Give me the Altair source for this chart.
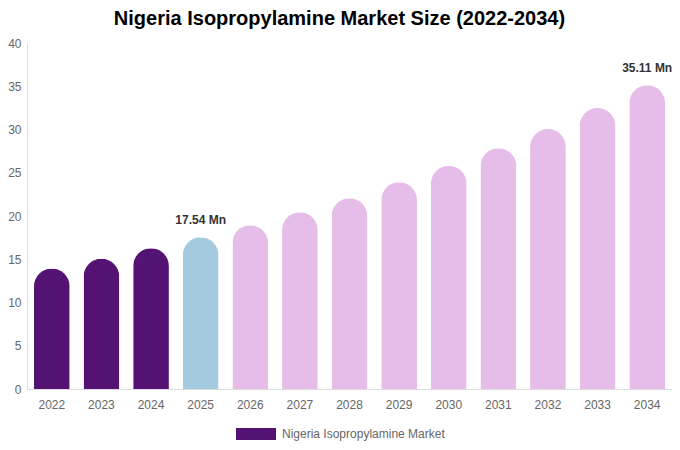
import altair as alt
import pandas as pd

years = ["2022", "2023", "2024", "2025", "2026", "2027", "2028", "2029", "2030", "2031", "2032", "2033", "2034"]
values = [13.94, 15.06, 16.26, 17.54, 18.92, 20.43, 22.05, 23.90, 25.79, 27.84, 30.05, 32.48, 35.11]
kinds = ["hist", "hist", "hist", "base", "fc", "fc", "fc", "fc", "fc", "fc", "fc", "fc", "fc"]
labels = ["", "", "", "17.54 Mn", "", "", "", "", "", "", "", "", "35.11 Mn"]
series_name = "Nigeria Isopropylamine Market"

df = pd.DataFrame({
    "year": years,
    "value": values,
    "kind": kinds,
    "label": labels,
    "series": [series_name] * len(years),
})

FONT = "Liberation Sans"

base = alt.Chart(df)

x_enc = alt.X("year:N", sort=years,
              scale=alt.Scale(paddingInner=0.28, paddingOuter=0.14),
              axis=alt.Axis(title=None, labelAngle=0, ticks=False, labelPadding=10,
                            labelColor="#666666", labelFontSize=12, labelFont=FONT,
                            domainColor="#dddddd"))
y_enc = alt.Y("value:Q", scale=alt.Scale(domain=[0, 40], nice=False),
              axis=alt.Axis(title=None, values=[0, 5, 10, 15, 20, 25, 30, 35, 40], ticks=False,
                            labelPadding=6, grid=False, labelColor="#666666", labelFontSize=12,
                            labelFont=FONT, domain=True, domainColor="#dddddd"))

bars = base.mark_bar(cornerRadiusTopLeft=18, cornerRadiusTopRight=18).encode(
    x=x_enc,
    y=y_enc,
    fill=alt.Fill("kind:N", scale=alt.Scale(domain=["hist", "base", "fc"],
                                           range=["#541273", "#a3cadf", "#e6bce9"]),
                  legend=None),
)

legend_layer = base.mark_bar(opacity=0).encode(
    x=alt.X("year:N", sort=years),
    y="value:Q",
    color=alt.Color("series:N", scale=alt.Scale(range=["#541273"]),
                    legend=alt.Legend(title=None, orient="none", legendX=209, legendY=371,
                                      symbolType="M-1,-0.3H1V0.3H-1Z", symbolSize=1600,
                                      symbolOpacity=1, symbolFillColor="#541273",
                                      labelFontSize=12, labelColor="#666666", labelFont=FONT,
                                      labelLimit=400, labelOffset=6, symbolStrokeWidth=0)),
)

text = base.mark_text(baseline="bottom", dy=-10, fontWeight="bold", fontSize=12,
                      color="#333333", font=FONT).encode(
    x=alt.X("year:N", sort=years),
    y="value:Q",
    text="label:N",
)

chart = (bars + legend_layer + text).properties(
    width=645,
    height=346,
    padding={"left": 19, "top": 35, "right": 0, "bottom": 53},
    autosize=alt.AutoSizeParams(type="none"),
    title=alt.TitleParams("Nigeria Isopropylamine Market Size (2022-2034)", fontSize=20,
                          font=FONT, fontWeight="bold", color="#000000", anchor="middle",
                          dx=-10, offset=8),
).configure_view(stroke=None)

chart.save("out.html", embed_options={"renderer": "svg", "actions": False})
